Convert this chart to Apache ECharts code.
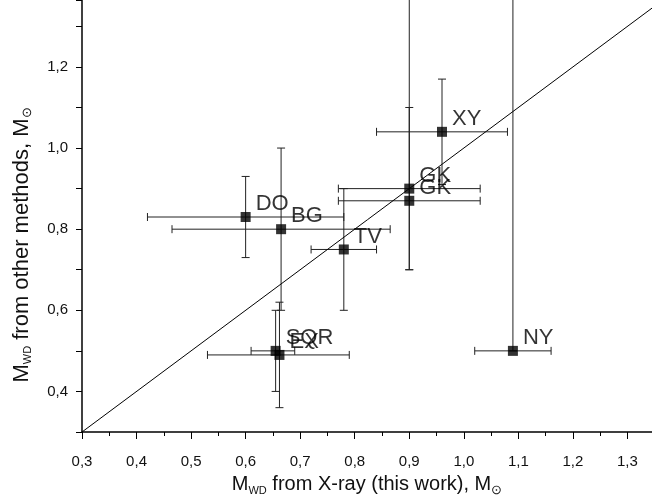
<!DOCTYPE html>
<html>
<head>
<meta charset="utf-8">
<script src="https://cdn.jsdelivr.net/npm/echarts@6/dist/echarts.min.js"></script>
<style>
  html, body { margin: 0; padding: 0; background: #fff; }
  #chart { width: 652px; height: 503px; }
</style>
</head>
<body>
<div id="chart"></div>
<script>
// star names and masses
const names = ['XY', 'GK', 'GK', 'DO', 'BG', 'TV', 'SQR', 'EX', 'NY'];
const xVals = [0.96, 0.90, 0.90, 0.60, 0.665, 0.78, 0.655, 0.662, 1.09];
const yVals = [1.04, 0.90, 0.87, 0.83, 0.80, 0.75, 0.50, 0.49, 0.50];
const xLow  = [0.84, 0.77, 0.77, 0.42, 0.465, 0.72, 0.61, 0.53, 1.02];
const xHigh = [1.08, 1.03, 1.03, 0.78, 0.865, 0.84, 0.69, 0.79, 1.16];
const yLow  = [0.91, 0.70, 0.70, 0.73, 0.60, 0.60, 0.40, 0.36, 0.50];
const yHigh = [1.17, 1.10, 1.60, 0.93, 1.00, 0.90, 0.60, 0.62, 1.60];
const diagonal = [0.3, 1.4]; // y = x line

const chart = echarts.init(document.getElementById('chart'));

const fmt = v => v.toFixed(1).replace('.', ',');
const font = 'Arial, "Liberation Sans", sans-serif';

const points = names.map((n, i) => [xVals[i], yVals[i], n]);
const errData = names.map((n, i) => [xVals[i], yVals[i], xLow[i], xHigh[i], yLow[i], yHigh[i]]);

function renderErr(params, api) {
    const x = api.value(0), y = api.value(1);
    const c = api.coord([x, y]);
    const l = api.coord([api.value(2), y]);
    const r = api.coord([api.value(3), y]);
    const b = api.coord([x, api.value(4)]);
    const t = api.coord([x, api.value(5)]);
    const cap = 4;
    const st = { stroke: '#222', lineWidth: 1 };
    const ln = (x1, y1, x2, y2) => ({ type: 'line', shape: { x1, y1, x2, y2 }, style: st });
    return {
        type: 'group',
        children: [
            ln(l[0], c[1], r[0], c[1]),
            ln(l[0], c[1] - cap, l[0], c[1] + cap),
            ln(r[0], c[1] - cap, r[0], c[1] + cap),
            ln(c[0], t[1], c[0], b[1]),
            ln(c[0] - cap, t[1], c[0] + cap, t[1]),
            ln(c[0] - cap, b[1], c[0] + cap, b[1])
        ]
    };
}

const subRich = {
    sub: { fontSize: 11, fontFamily: font, color: '#111', padding: [12, 0, 0, 0] },
    sym: { fontSize: 13, fontFamily: font, color: '#111', padding: [12, 0, 0, 0] }
};

// label only the even tenths (0,4 0,6 ... 1,2)
function yLabel(v) {
    const k = Math.round(v * 10);
    if (Math.abs(v * 10 - k) > 1e-6 || k % 2 !== 0 || k < 4) return '';
    return fmt(v);
}

chart.setOption({
    backgroundColor: '#fff',
    animation: false,
    grid: { left: 82, right: 0, top: 0, bottom: 71, outerBoundsMode: 'none' },
    xAxis: {
        type: 'value',
        min: 0.3,
        max: 1.345,
        interval: 0.1,
        name: 'M{sub|WD} from X-ray (this work), M{sym|⊙}',
        nameLocation: 'middle',
        nameGap: 40,
        nameTextStyle: { fontSize: 20, fontFamily: font, color: '#111', rich: subRich },
        axisLine: { lineStyle: { color: '#000', width: 1.5 } },
        axisTick: { length: 7, lineStyle: { color: '#000' } },
        minorTick: { show: true, splitNumber: 2, length: 4, lineStyle: { color: '#000' } },
        axisLabel: { formatter: fmt, margin: 22, fontSize: 15, fontFamily: font, color: '#111', showMaxLabel: false },
        splitLine: { show: false }
    },
    yAxis: {
        type: 'value',
        min: 0.3,
        max: 1.365,
        interval: 0.1,
        name: 'M{sub|WD} from other methods, M{sym|⊙}',
        nameLocation: 'middle',
        nameGap: 48,
        nameTextStyle: { fontSize: 22, fontFamily: font, color: '#111', rich: subRich, padding: [0, 58, 0, 0] },
        axisLine: { lineStyle: { color: '#000', width: 1.5 } },
        axisTick: { length: 6, lineStyle: { color: '#000' } },
        axisLabel: { formatter: yLabel, margin: 14, fontSize: 15, fontFamily: font, color: '#111' },
        splitLine: { show: false }
    },
    series: [
        {
            type: 'line',
            data: diagonal.map(v => [v, v]),
            symbol: 'none',
            lineStyle: { color: '#000', width: 1 },
            clip: true,
            silent: true
        },
        {
            type: 'custom',
            data: errData,
            renderItem: renderErr,
            clip: true,
            silent: true,
            z: 3
        },
        {
            type: 'scatter',
            data: points,
            symbol: 'rect',
            symbolSize: 10,
            itemStyle: { color: '#000' },
            z: 5,
            label: {
                show: true,
                formatter: p => p.data[2],
                position: [15, -8],
                align: 'left',
                verticalAlign: 'middle',
                fontSize: 22,
                fontFamily: font,
                color: '#000'
            }
        }
    ]
});
</script>
</body>
</html>
